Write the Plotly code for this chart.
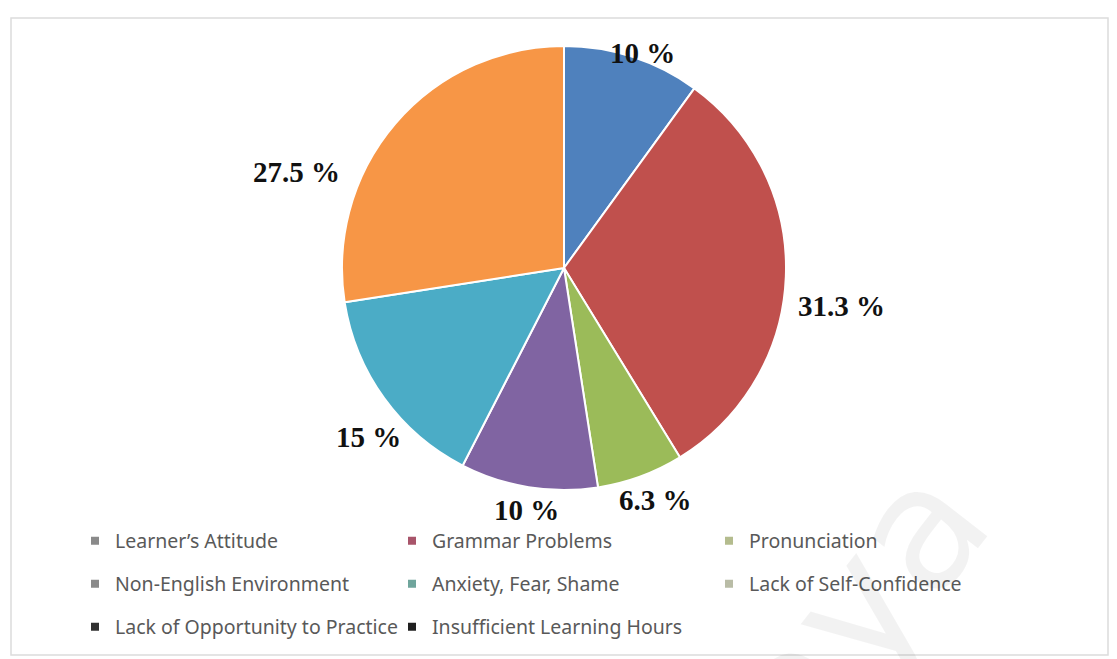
import plotly.graph_objects as go

# Survey results: factors affecting speaking
categories = [
    "Learner\u2019s Attitude",
    "Grammar Problems",
    "Pronunciation",
    "Non-English Environment",
    "Anxiety, Fear, Shame",
    "Lack of Self-Confidence",
    "Lack of Opportunity to Practice",
    "Insufficient Learning Hours",
]
percentages = [10, 31.3, 6.3, 10, 15, 27.5, 0, 0]

slice_colors = ["#4F81BD", "#C0504D", "#9BBB59", "#8064A2",
                "#4BACC6", "#F79646", "#2C4D75", "#772C2A"]
legend_marker_colors = ["#8a8a8a", "#a8546a", "#b4bc8e", "#8a8a8a",
                        "#6fa59c", "#b9bca6", "#303030", "#202020"]

W, H = 1117, 659

# pixel anchors for the percentage labels (centre of each label)
label_px = [(642, 53), (841, 306), (655, 500), (526, 510), (368, 437), (296, 172)]

fig = go.Figure()

fig.add_trace(go.Pie(
    labels=categories,
    values=percentages,
    sort=False,
    direction="clockwise",
    rotation=0,
    marker=dict(colors=slice_colors, line=dict(color="white", width=2)),
    textinfo="none",
    hoverinfo="label+percent",
    showlegend=False,
    domain=dict(x=[(564 - 222) / W, (564 + 222) / W],
                y=[(H - 490) / H, (H - 46) / H]),
))

# legend entries, three per row
legend_names = ["legend", "legend2", "legend3"]
for i, (name, col) in enumerate(zip(categories, legend_marker_colors)):
    fig.add_trace(go.Scatter(
        x=[None], y=[None], mode="markers", name=name,
        marker=dict(symbol="square", size=8, color=col),
        legend=legend_names[i // 3], showlegend=True,
    ))

annotations = []
for (px, py), v in zip(label_px, percentages):
    annotations.append(dict(
        x=px / W, y=1 - py / H, xref="paper", yref="paper",
        text=f"{v:g} %", showarrow=False, xanchor="center", yanchor="middle",
        font=dict(family="Liberation Serif", size=29, color="#111111", weight="bold"),
    ))

# faint watermark
annotations.append(dict(
    x=855 / W, y=1 - 610 / H, xref="paper", yref="paper",
    text="aya", showarrow=False, textangle=-52,
    xanchor="center", yanchor="middle",
    font=dict(family="DejaVu Sans", size=170, color="rgba(0,0,0,0.05)"),
))

legend_common = dict(
    orientation="h", entrywidth=272, entrywidthmode="pixels",
    font=dict(family="Noto Sans", size=19.5, color="#595959"),
    bgcolor="rgba(0,0,0,0)", xanchor="left", yanchor="middle",
    x=75 / W, itemwidth=30,
)

fig.update_layout(
    width=W, height=H,
    margin=dict(l=0, r=0, t=0, b=0),
    paper_bgcolor="white", plot_bgcolor="white",
    xaxis=dict(visible=False), yaxis=dict(visible=False),
    annotations=annotations,
    legend=dict(**legend_common, y=1 - 541 / H),
    legend2=dict(**legend_common, y=1 - 584 / H),
    legend3=dict(**legend_common, y=1 - 627 / H),
    shapes=[dict(type="rect", xref="paper", yref="paper",
                 x0=11 / W, x1=1108 / W, y0=1 - 655 / H, y1=1 - 18 / H,
                 line=dict(color="#dcdcdc", width=1.5))],
)

fig.write_html("out.html")
